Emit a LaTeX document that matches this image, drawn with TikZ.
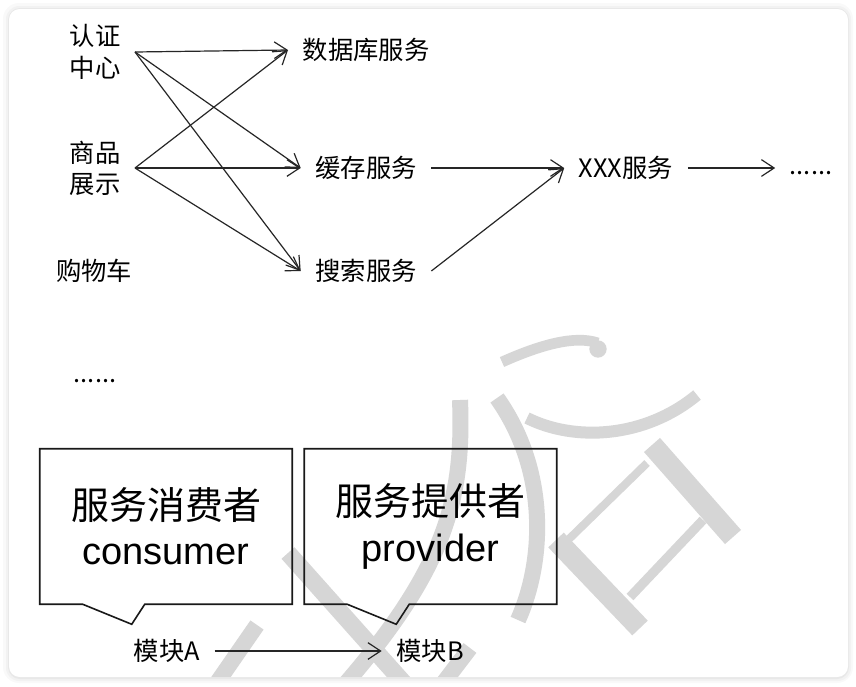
\documentclass[tikz,border=0pt]{standalone}
\usepackage{fontspec}
\setmainfont{Liberation Sans}
\newfontfamily\cjk{Noto Sans CJK SC}
\usetikzlibrary{arrows.meta, positioning}

\begin{document}
\begin{tikzpicture}[x=0.75pt, y=-0.75pt,
    lbl/.style={inner sep=0pt, outer xsep=11pt, align=center, font=\fontsize{19}{23.5}\selectfont\cjk},
    big/.style={inner sep=0pt, minimum width=189pt, minimum height=116.25pt, align=center, font=\fontsize{28.5}{34}\selectfont},
    arr/.style={line width=0.9pt, black!85, -{Straight Barb[length=9.5pt, width=12.5pt]}},
    callout/.style={line width=1.2pt, black!90, line join=miter},
    wm/.style={gray!32, line cap=butt}]
  \useasboundingbox (0,0) rectangle (856,686);

  % card with soft shadow
  \fill[gray!5, rounded corners=12pt] (3,3) rectangle (853,683);
  \fill[gray!10, rounded corners=10pt] (6,6) rectangle (851,681);
  \fill[gray!18, rounded corners=9pt] (8,8) rectangle (849,679);
  \fill[white, rounded corners=8pt] (9,9) rectangle (848,677);

  % watermark strokes
  \begin{scope}
    \clip[rounded corners=8pt] (9,9) rectangle (848,677);
    \draw[wm, line width=8pt] (502,362) .. controls (540,345) and (575,335) .. (598,343);
    \fill[gray!32] (598,349) circle (6.5pt);
    \draw[wm, line width=9pt] (527,418) .. controls (575,442) and (645,438) .. (697,395);
    \draw[wm, line width=12pt] (497,398) .. controls (548,470) and (545,560) .. (518,620);
    \draw[wm, line width=12pt] (460,400) .. controls (464,500) and (445,570) .. (340,690);
    \draw[wm, line width=13pt] (288,553) -- (410,690);
    \draw[wm, line width=12pt] (257,625) -- (212,690);
    \draw[wm, line width=12pt] (470,648) -- (438,690);
    \draw[wm, line width=16pt] (652,445) -- (733,537);
    \draw[wm, line width=6pt] (647,463) -- (568,540);
    \draw[wm, line width=16pt] (556,540) -- (640,628);
    \draw[wm, line width=7pt] (703,520) -- (630,597);
  \end{scope}

  % callers on the left
  \node[lbl] (auth) at (95,52) {认证\\中心};
  \node[lbl] (goods) at (95,168) {商品\\展示};
  \node[lbl] (cart) at (94,271) {购物车};
  \node[lbl] (etc) at (95,381) {......};

  % services
  \node[lbl] (db) at (366,50) {数据库服务};
  \node[lbl] (cache) at (366,168) {缓存服务};
  \node[lbl] (search) at (366,271) {搜索服务};
  \node[lbl] (xxx) at (626,168) {XXX服务};
  \node[lbl] (more) at (811,173) {......};

  % calls
  \foreach \t in {db, cache, search} {
    \draw[arr] (auth.east) -- (\t.west);
    \draw[arr] (goods.east) -- (\t.west);
  }
  \draw[arr] (cache.east) -- (xxx.west);
  \draw[arr] (search.east) -- (xxx.west);
  \draw[arr] (xxx.east) -- (xxx.east -| more.west);

  % consumer / provider callouts
  \node[big] (cons) at (166,526.5) {{\cjk 服务消费者}\\consumer};
  \node[big] (prov) at (430.5,526.5) {{\cjk 服务提供者}\\provider};
  \foreach \b in {cons, prov}
    \draw[callout] (\b.north west) -- (\b.north east) -- (\b.south east)
      -- ([xshift=78.75pt]\b.south west) -- ([xshift=69pt, yshift=-15pt]\b.south west)
      -- ([xshift=32.25pt]\b.south west) -- (\b.south west) -- cycle;

  % modules
  \node[lbl] (moda) at (167,651) {模块A};
  \node[lbl] (modb) at (430,651) {模块B};
  \draw[arr] (moda) -- (modb);
\end{tikzpicture}
\end{document}
